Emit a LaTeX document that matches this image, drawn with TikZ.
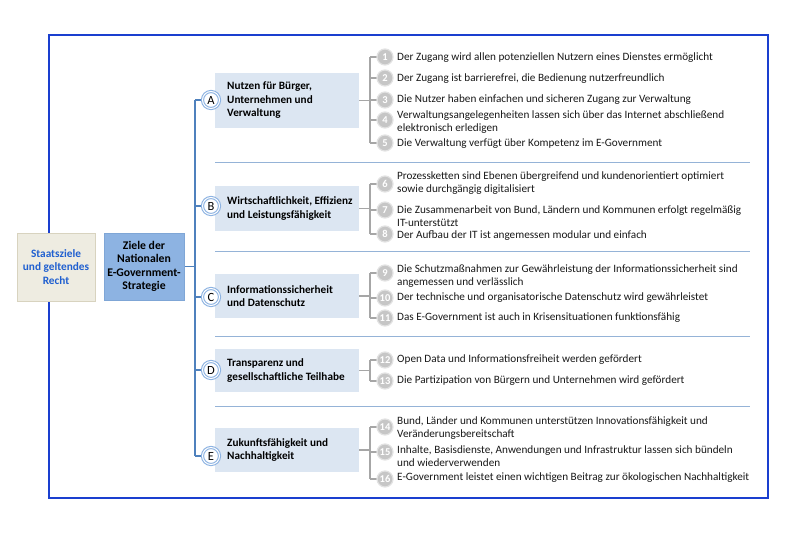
\documentclass[tikz,border=0pt]{standalone}
\usepackage{fontspec}
\setmainfont{Carlito}
\usetikzlibrary{backgrounds}
\definecolor{frameblue}{HTML}{1A3FCF}
\definecolor{trunkblue}{HTML}{4F81BD}
\definecolor{seplight}{HTML}{95B3D7}
\definecolor{boxlight}{HTML}{DCE6F2}
\definecolor{zielebox}{HTML}{8DB3E2}
\definecolor{zieleborder}{HTML}{7FA6D6}
\definecolor{staatfill}{HTML}{EEECE1}
\definecolor{staatborder}{HTML}{D8D3BF}
\definecolor{staattext}{HTML}{1F5FD0}
\definecolor{numgray}{HTML}{C6C6C6}
\definecolor{numring}{HTML}{E2E2E2}
\definecolor{bracketgray}{HTML}{A6A6A6}
\definecolor{ringblue}{HTML}{8DB3E2}
\tikzset{
  goalbox/.style={fill=boxlight, draw=none, minimum width=144pt, inner sep=0pt, anchor=west},
  goaltxt/.style={font=\fontsize{11.2}{13.5}\selectfont\bfseries, align=left, anchor=west, inner sep=0pt},
  lettc/.style={circle, fill=white, draw=ringblue, double=white, double distance=1pt, line width=1.1pt, minimum size=17pt, inner sep=0pt, font=\fontsize{12.5}{13}\selectfont},
  numc/.style={circle, fill=numgray, draw=numring, line width=1.2pt, minimum size=16pt, inner sep=0pt, text=white, font=\fontsize{10.5}{11}\selectfont\bfseries},
  itemtxt/.style={font=\fontsize{11.2}{12.5}\selectfont, align=left, anchor=west, inner sep=0pt, text=black!90},
  trunk/.style={draw=trunkblue, line width=1.5pt},
  brk/.style={draw=bracketgray, line width=1.4pt},
  sep/.style={draw=seplight, line width=1pt},
}
\newcommand\gitem[4]{%
  \node[numc] (n#1) at (385,#2) {#1};
  \node[itemtxt] (t#1) at (397,#3) {#4};%
}
\newcommand\gbox[5]{% name, top, bottom, text, circle y
  \node[goalbox, minimum height={#3-#2}] (box#1) at (215,{(#2+#3)/2}) {};
  \node[goaltxt] (txt#1) at (227,{(#2+#3)/2}) {#4};
  \node[lettc] (c#1) at (211,#5) {#1};%
}
\begin{document}
\begin{tikzpicture}[x=1pt,y=-1pt]
\useasboundingbox (0,0) rectangle (800,544);

% left boxes
\node[fill=staatfill, draw=staatborder, line width=0.8pt, minimum width=78pt, minimum height=68pt, inner sep=0pt,
      text=staattext, font=\fontsize{11.3}{13.3}\selectfont\bfseries, align=center] (staat) at (56,267)
      {Staatsziele\\und geltendes\\Recht};
\node[fill=zielebox, draw=zieleborder, line width=0.6pt, minimum width=80pt, minimum height=67pt, inner sep=0pt,
      font=\fontsize{11.7}{13.3}\selectfont\bfseries, align=center] (ziele) at (144,266.5)
      {Ziele der\\Nationalen\\E-Government-\\Strategie};

% goal boxes
\gbox{A}{73}{128}{Nutzen für Bürger,\\Unternehmen und\\Verwaltung}{100}
\gbox{B}{186}{231}{Wirtschaftlichkeit, Effizienz\\und Leistungsfähigkeit}{206}
\gbox{C}{274}{318}{Informationssicherheit\\und Datenschutz}{297}
\gbox{D}{349}{392}{Transparenz und\\gesellschaftliche Teilhabe}{370}
\gbox{E}{428}{472}{Zukunftsfähigkeit und\\Nachhaltigkeit}{456}

% items
\gitem{1}{57}{58}{Der Zugang wird allen potenziellen Nutzern eines Dienstes ermöglicht}
\gitem{2}{78}{79}{Der Zugang ist barrierefrei, die Bedienung nutzerfreundlich}
\gitem{3}{100}{100}{Die Nutzer haben einfachen und sicheren Zugang zur Verwaltung}
\gitem{4}{120}{122}{Verwaltungsangelegenheiten lassen sich über das Internet abschließend\\elektronisch erledigen}
\gitem{5}{143}{144}{Die Verwaltung verfügt über Kompetenz im E-Government}
\gitem{6}{184}{183}{Prozessketten sind Ebenen übergreifend und kundenorientiert optimiert\\sowie durchgängig digitalisiert}
\gitem{7}{210}{216}{Die Zusammenarbeit von Bund, Ländern und Kommunen erfolgt regelmäßig\\IT-unterstützt}
\gitem{8}{234}{236}{Der Aufbau der IT ist angemessen modular und einfach}
\gitem{9}{273}{276}{Die Schutzmaßnahmen zur Gewährleistung der Informationssicherheit sind\\angemessen und verlässlich}
\gitem{10}{298}{298}{Der technische und organisatorische Datenschutz wird gewährleistet}
\gitem{11}{318}{318}{Das E-Government ist auch in Krisensituationen funktionsfähig}
\gitem{12}{360}{360}{Open Data und Informationsfreiheit werden gefördert}
\gitem{13}{381}{381}{Die Partizipation von Bürgern und Unternehmen wird gefördert}
\gitem{14}{427}{428}{Bund, Länder und Kommunen unterstützen Innovationsfähigkeit und\\Veränderungsbereitschaft}
\gitem{15}{452}{456}{Inhalte, Basisdienste, Anwendungen und Infrastruktur lassen sich bündeln\\und wiederverwenden}
\gitem{16}{479}{478}{E-Government leistet einen wichtigen Beitrag zur ökologischen Nachhaltigkeit}

\begin{scope}[on background layer]
  \fill[white] (0,0) rectangle (800,544);
  % frame
  \draw[draw=frameblue, line width=2pt] (49,35) rectangle (768,498);
  % separators
  \coordinate (sl) at (215,0); \coordinate (sr) at (750,0);
  \foreach \y in {162,251,336,406} \draw[sep] (sl |- 0,\y) -- (sr |- 0,\y);
  % trunk
  \coordinate (tr) at (195,0);
  \draw[trunk] (cA -| tr) -- (cE -| tr);
  \foreach \g in {A,B,C,D,E} \draw[trunk] (c\g -| tr) -- (c\g.center);
  \draw[trunk] (ziele.east) -- (ziele.east -| tr);
  % brackets
  \coordinate (bx) at (370,0);
  \draw[brk] (boxA.east) -- (boxA.east -| bx);
  \draw[brk] (n1 -| bx) -- (n5 -| bx);
  \foreach \i in {1,...,5} \draw[brk] (n\i -| bx) -- (n\i.center);
  \draw[brk] (boxB.east) -- (boxB.east -| bx);
  \draw[brk] (n6 -| bx) -- (n8 -| bx);
  \foreach \i in {6,7,8} \draw[brk] (n\i -| bx) -- (n\i.center);
  \draw[brk] (boxC.east) -- (boxC.east -| bx);
  \draw[brk] (n9 -| bx) -- (n11 -| bx);
  \foreach \i in {9,10,11} \draw[brk] (n\i -| bx) -- (n\i.center);
  \draw[brk] (boxD.east) -- (boxD.east -| bx);
  \draw[brk] (n12 -| bx) -- (n13 -| bx);
  \foreach \i in {12,13} \draw[brk] (n\i -| bx) -- (n\i.center);
  \draw[brk] (boxE.east) -- (boxE.east -| bx);
  \draw[brk] (n14 -| bx) -- (n16 -| bx);
  \foreach \i in {14,15,16} \draw[brk] (n\i -| bx) -- (n\i.center);
\end{scope}
\end{tikzpicture}
\end{document}
